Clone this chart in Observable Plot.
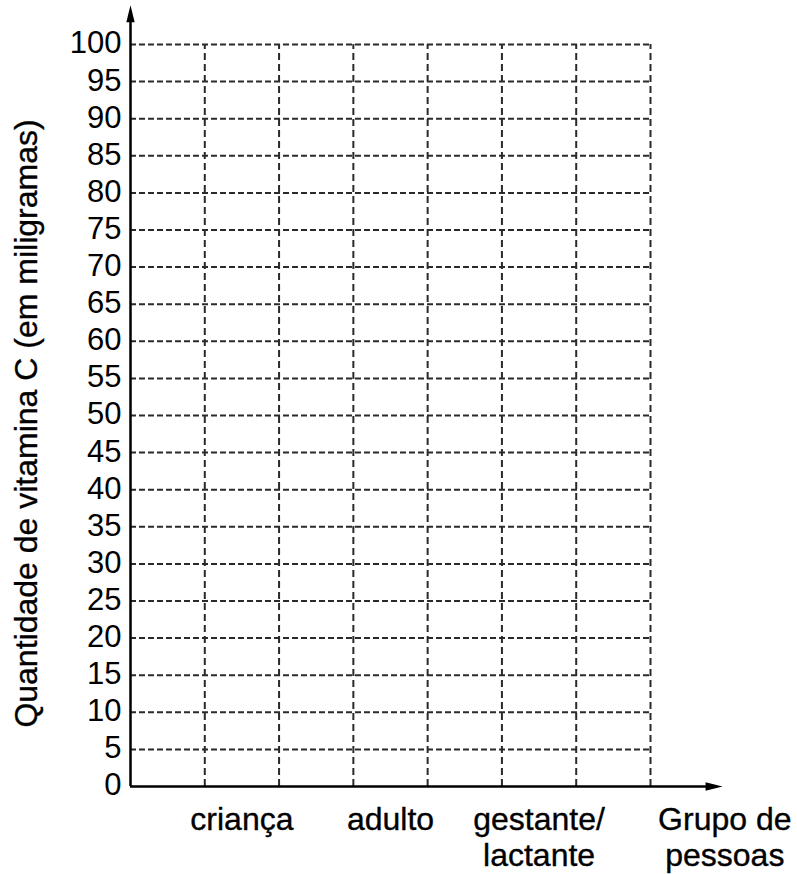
<!DOCTYPE html>
<html>
<head>
<meta charset="utf-8">
<script src="https://cdn.jsdelivr.net/npm/d3@7"></script>
<script src="https://cdn.jsdelivr.net/npm/@observablehq/plot@0.6"></script>
<style>
  html, body { margin: 0; padding: 0; background: #fff; overflow: hidden; }
  #chart { width: 797px; height: 874px; }
</style>
</head>
<body>
<div id="chart"></div>
<script>
// ---- Data ----
const categorias = ["criança", "adulto", "gestante/\nlactante"];
const colunaDaCategoria = [2, 4, 6];           // grid column (1-based) holding each category
const colunas = [1, 2, 3, 4, 5, 6, 7];          // vertical grid lines (column boundaries)
const yTicks = [0, 5, 10, 15, 20, 25, 30, 35, 40, 45, 50, 55, 60, 65, 70, 75, 80, 85, 90, 95, 100];
const tituloY = "Quantidade de vitamina C (em miligramas)";
const tituloX = "Grupo de\npessoas";

// ---- Layout constants ----
const yMax = 100, nCols = 7;
const yTip = 105.3;   // arrow tip of the vertical axis (data units)
const xTip = 7.97;    // arrow tip of the horizontal axis (data units)

const pontaSeta = {
  draw(ctx) {
    ctx.moveTo(0, 0);
    ctx.lineTo(-4.2, 17);
    ctx.lineTo(4.2, 17);
    ctx.closePath();
  }
};

const textStroke = { stroke: "#000", strokeWidth: 0.35 };

const chart = Plot.plot({
  width: 797,
  height: 874,
  marginLeft: 130,
  marginRight: 147,
  marginTop: 44,
  marginBottom: 88,
  style: { fontFamily: "'Liberation Sans', Arial, sans-serif", fontSize: "31px", color: "#000", background: "#fff" },
  x: { type: "linear", domain: [0, nCols], axis: null },
  y: { domain: [0, yMax], axis: null },
  marks: [
    // dashed grid
    Plot.ruleY(yTicks.filter(v => v > 0), { x1: 0, x2: nCols, stroke: "#2a2a2a", strokeWidth: 2, strokeDasharray: "6,3" }),
    Plot.ruleX(colunas, { y1: 0, y2: yMax, stroke: "#2a2a2a", strokeWidth: 2, strokeDasharray: "7,4" }),
    // axes with arrows
    Plot.ruleX([0], { y1: 0, y2: yTip - 1.5, stroke: "#000", strokeWidth: 2.5 }),
    Plot.ruleY([0], { x1: 0, x2: xTip - 0.15, stroke: "#000", strokeWidth: 2.5 }),
    Plot.dot([0], { x: 0, y: yTip, symbol: pontaSeta, fill: "#000", stroke: null }),
    Plot.dot([0], { x: xTip, y: 0, symbol: pontaSeta, rotate: 90, fill: "#000", stroke: null }),
    // y tick labels
    Plot.axisY(yTicks, { anchor: "left", tickSize: 0, tickPadding: 9, fontSize: 31, label: null, dy: -1, ...textStroke }),
    // category labels
    Plot.text(categorias, {
      x: (d, i) => colunaDaCategoria[i] - 0.5,
      y: 0,
      text: d => d,
      lineAnchor: "top",
      dy: 18,
      fontSize: 32,
      lineHeight: 1.12,
      fill: "#000",
      ...textStroke
    }),
    // x axis title
    Plot.text([tituloX], {
      x: xTip + 0.03,
      y: 0,
      text: d => d,
      lineAnchor: "top",
      dy: 18,
      fontSize: 32,
      lineHeight: 1.12,
      fill: "#000",
      ...textStroke
    }),
    // y axis title
    Plot.text([tituloY], {
      frameAnchor: "left",
      text: d => d,
      rotate: -90,
      textAnchor: "middle",
      lineAnchor: "middle",
      dx: -104,
      dy: 8,
      fontSize: 32,
      fill: "#000",
      ...textStroke
    })
  ]
});

document.getElementById("chart").appendChild(chart);
</script>
</body>
</html>
